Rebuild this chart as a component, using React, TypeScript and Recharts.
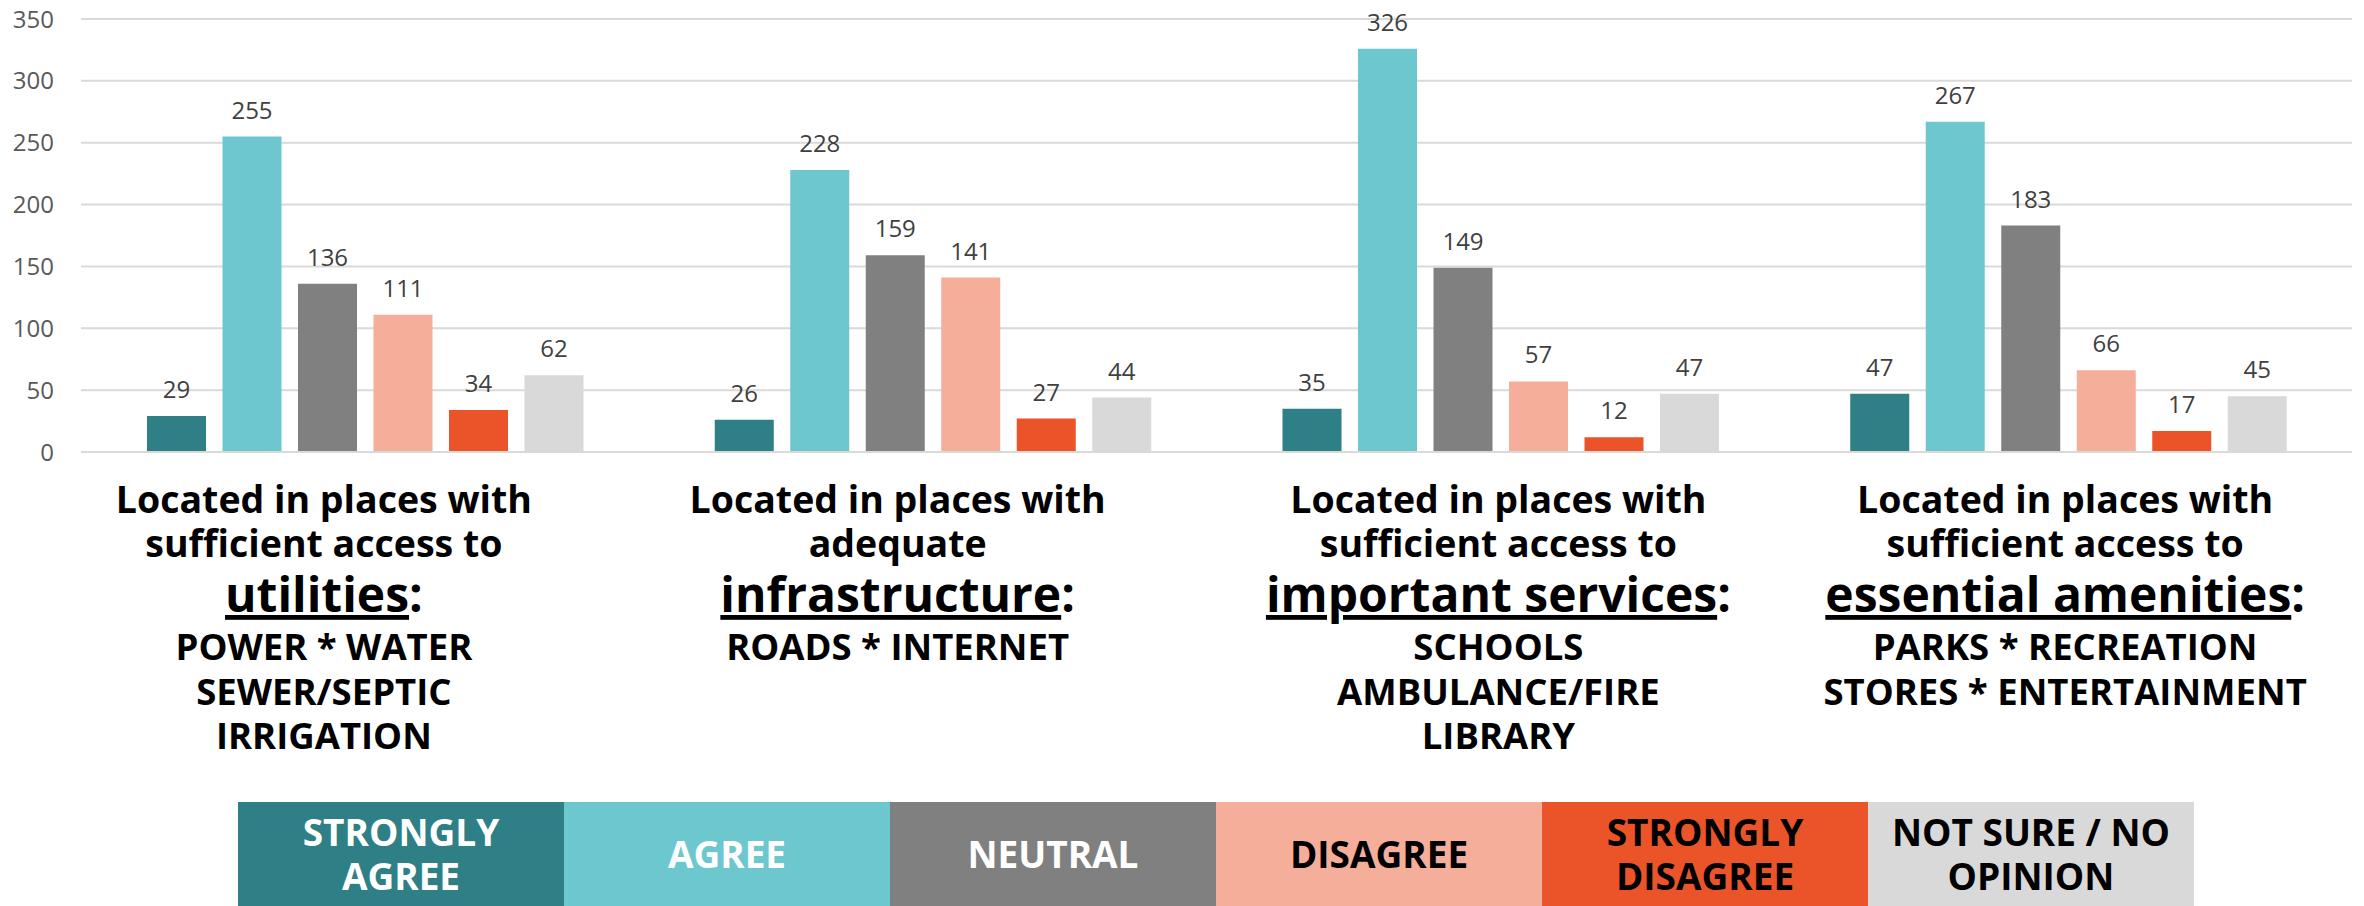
import React from 'react';
import { BarChart, Bar, XAxis, YAxis, CartesianGrid, LabelList, Legend } from 'recharts';

// ---- data ----
const categories = ['utilities', 'infrastructure', 'important services', 'essential amenities'];
const stronglyAgree = [29, 26, 35, 47];
const agree = [255, 228, 326, 267];
const neutral = [136, 159, 149, 183];
const disagree = [111, 141, 57, 66];
const stronglyDisagree = [34, 27, 12, 17];
const notSure = [62, 44, 47, 45];

const yTicks = [0, 50, 100, 150, 200, 250, 300, 350];

const labelIntro = [
  ['Located in places with', 'sufficient access to'],
  ['Located in places with', 'adequate'],
  ['Located in places with', 'sufficient access to'],
  ['Located in places with', 'sufficient access to'],
];
const labelKeyword = ['utilities', 'infrastructure', 'important services', 'essential amenities'];
const labelDetails = [
  ['POWER * WATER', 'SEWER/SEPTIC', 'IRRIGATION'],
  ['ROADS * INTERNET'],
  ['SCHOOLS', 'AMBULANCE/FIRE', 'LIBRARY'],
  ['PARKS * RECREATION', 'STORES * ENTERTAINMENT'],
];

const seriesKeys = ['stronglyAgree', 'agree', 'neutral', 'disagree', 'stronglyDisagree', 'notSure'];
const seriesNames = ['STRONGLY AGREE', 'AGREE', 'NEUTRAL', 'DISAGREE', 'STRONGLY DISAGREE', 'NOT SURE / NO OPINION'];
const legendLines = [
  ['STRONGLY', 'AGREE'],
  ['AGREE'],
  ['NEUTRAL'],
  ['DISAGREE'],
  ['STRONGLY', 'DISAGREE'],
  ['NOT SURE / NO', 'OPINION'],
];

const data = categories.map((c, i) => ({
  category: c,
  stronglyAgree: stronglyAgree[i],
  agree: agree[i],
  neutral: neutral[i],
  disagree: disagree[i],
  stronglyDisagree: stronglyDisagree[i],
  notSure: notSure[i],
}));

// ---- styles ----
const COLORS = ['#2E7F86', '#6DC7CF', '#808080', '#F4AE9A', '#EB5428', '#D9D9D9'];
const LEGEND_TEXT = ['#FFFFFF', '#FFFFFF', '#FFFFFF', '#000000', '#000000', '#000000'];
const FONT = '"Open Sans", sans-serif';
const LABEL_SHIFT = [-41, -35, -2, -3];

const CategoryTick = (props: any) => {
  const { x, y, index } = props;
  const cx = x + LABEL_SHIFT[index];
  const intro = labelIntro[index];
  const details = labelDetails[index];
  return (
    <g fontFamily={FONT} fontWeight={700} fill="#000000">
      {intro.map((t, i) => (
        <text key={'i' + i} x={cx} y={y + 61 + i * 43.5} textAnchor="middle" fontSize={37.5}>
          {t}
        </text>
      ))}
      <text x={cx} y={y + 160} textAnchor="middle" fontSize={48}>
        <tspan style={{ textDecoration: 'underline' }}>{labelKeyword[index]}</tspan>
        <tspan>:</tspan>
      </text>
      {details.map((t, i) => (
        <text key={'d' + i} x={cx} y={y + 208 + i * 44.6} textAnchor="middle" fontSize={36.5}>
          {t}
        </text>
      ))}
    </g>
  );
};

const renderLegend = () => (
  <div style={{ display: 'flex', width: 1956, height: 104 }}>
    {seriesNames.map((n, i) => (
      <div
        key={n}
        style={{
          width: 326,
          height: 104,
          background: COLORS[i],
          color: LEGEND_TEXT[i],
          display: 'flex',
          flexDirection: 'column',
          justifyContent: 'center',
          alignItems: 'center',
          fontFamily: FONT,
          fontWeight: 700,
          fontSize: 37,
          lineHeight: '44px',
          textAlign: 'center',
        }}
      >
        {legendLines[i].map((l) => (
          <div key={l}>{l}</div>
        ))}
      </div>
    ))}
  </div>
);

export default function App() {
  return (
    <div style={{ position: 'absolute', left: 0, top: 0, width: 2364, height: 906, background: '#fff' }}>
      <BarChart
        width={2364}
        height={906}
        data={data}
        margin={{ top: 19, right: 12, bottom: 0, left: 0 }}
        barSize={59}
        barGap={16.5}
      >
        <CartesianGrid vertical={false} stroke="#D9D9D9" strokeWidth={2} />
        <XAxis
          dataKey="category"
          height={350}
          interval={0}
          tickLine={false}
          tickSize={0}
          tickMargin={0}
          axisLine={{ stroke: '#D9D9D9', strokeWidth: 2 }}
          tick={(p: any) => <CategoryTick {...p} />}
        />
        <YAxis
          domain={[0, 350]}
          ticks={yTicks}
          width={81}
          axisLine={false}
          tickLine={false}
          tickSize={0}
          tickMargin={27}
          tick={{ fill: '#595959', fontSize: 24, fontFamily: FONT }}
        />
        <Legend
          verticalAlign="bottom"
          align="left"
          content={renderLegend}
          wrapperStyle={{ left: 238, bottom: 0, width: 1956, height: 104 }}
        />
        {seriesKeys.map((k, i) => (
          <Bar key={k} dataKey={k} name={seriesNames[i]} fill={COLORS[i]} isAnimationActive={false}>
            <LabelList
              dataKey={k}
              position="top"
              offset={18}
              fill="#404040"
              fontSize={24}
              fontFamily={FONT}
            />
          </Bar>
        ))}
      </BarChart>
    </div>
  );
}
